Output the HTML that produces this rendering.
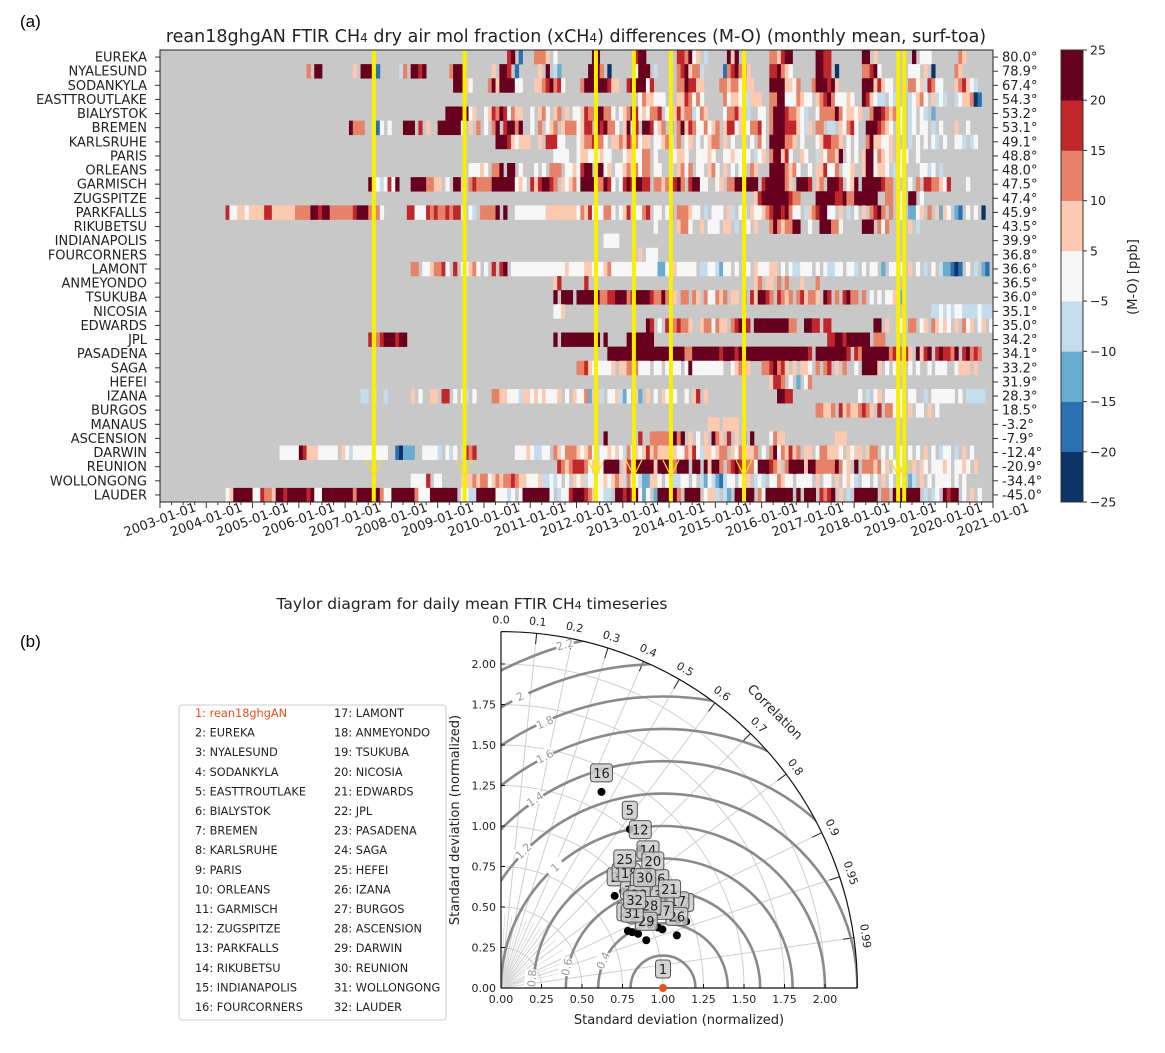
<!DOCTYPE html>
<html><head><meta charset="utf-8"><style>
html,body{margin:0;padding:0;background:#fff;overflow:hidden;width:1165px;height:1053px;}
svg{display:block;font-family:"DejaVu Sans","Liberation Sans",sans-serif;}
</style></head><body>
<svg id="fig" width="1165" height="1053" viewBox="0 0 1165 1053" xmlns="http://www.w3.org/2000/svg">
<text x="20" y="27" font-size="17" font-family="Liberation Sans, sans-serif">(a)</text>
<text x="20" y="647" font-size="17" font-family="Liberation Sans, sans-serif">(b)</text>
<text x="576" y="42" font-size="17.5" text-anchor="middle" fill="#222">rean18ghgAN FTIR CH<tspan font-size="12">4</tspan>  dry air mol fraction (xCH<tspan font-size="12">4</tspan>) differences (M-O) (monthly mean, surf-toa)</text>
<g id="heat"></g>
<g id="cbar"></g>
<text x="472" y="609" font-size="15.5" text-anchor="middle" fill="#222">Taylor diagram for daily mean FTIR CH<tspan font-size="11">4</tspan> timeseries</text>
<g id="legend"></g>
<g id="taylor"></g>
</svg>
<script>
const stations=["EUREKA","NYALESUND","SODANKYLA","EASTTROUTLAKE","BIALYSTOK","BREMEN","KARLSRUHE","PARIS","ORLEANS","GARMISCH","ZUGSPITZE","PARKFALLS","RIKUBETSU","INDIANAPOLIS","FOURCORNERS","LAMONT","ANMEYONDO","TSUKUBA","NICOSIA","EDWARDS","JPL","PASADENA","SAGA","HEFEI","IZANA","BURGOS","MANAUS","ASCENSION","DARWIN","REUNION","WOLLONGONG","LAUDER"];
const latitudes=["80.0","78.9","67.4","54.3","53.2","53.1","49.1","48.8","48.0","47.5","47.4","45.9","43.5","39.9","36.8","36.6","36.5","36.0","35.1","35.0","34.2","34.1","33.2","31.9","28.3","18.5","-3.2","-7.9","-12.4","-20.9","-34.4","-45.0"];
const startYear=[2010,2006,2009,2013,2009,2007,2010,2011,2009,2007,2015,2004,2013,2012,2013,2008,2011,2011,2011,2013,2007,2012,2012,2016,2007,2017,2014,2012,2005,2011,2008,2004];
// monthly codes: one 12-char token per year; '.' = no data, 0..8 = bins -25..25 (4 = -5..5)
const monthlyCodes=[
"......78.1.. .6665.4..... ....88...... ...788...... ..776845.3.. ...858...... ..665788.... ..8877...... ..88.5...... ...8.444.... ...65.......",
"..6.88...... ..5.888.1... ..36.8878... ...6888..... ..5.887.1... ..5.8.32.... ...8886.0... ...4888.3... ..6785663... ..1678685... ..778654.... ..8877.0.... ..66784..... ..444.5.0... ..65........",
"....88854... .685888844.. .55678674... .6888888755. .7888847.... ..6687755... .665664655.. ..88885546.. .6888785.... ..88857544.. ..664537644. ..567543....",
"....4655444. ..5576464... ..6455443555 ..6688444654 4.5678644454 ..875433.43. ..34564.5343 ..3455601...",
"..88888845.. 4576874655.. 4.564.56.5.4 4576688664.4 5687454667.4 6575663465.. ..4667563..4 4.6888766543 ..4666686455 45..6887656. 4.34.43.2...",
".8666...14.4 ...888.7.5.. 8888884.5.6. 4.68.78868.. 4.6.456.5666 4577.878664. 5847.887456. 6.6857644645 6.57745.4667 4.6888777543 5.66.33.5467 4..8887654.. 4.34.44.3.4. ..5..4......",
"...888754555 ..5.77744... 45667664.556 5766455.4456 4.6.45.4.456 6.5.4..3.4.6 4.8888665.4. ..4577665.4. 4..6855445.. ..3.4.4.43.4 ..443.34....",
"......4444.. 455444544... 4554466.4... 44554..44454 ..4454444.34 5.688574..54 ..3546658.4. 4.58846545.. 44..4.......",
"........4445 4.668.88.4.. .4.4.666.445 4788.8845.44 5656466.44.. 4.5646.44.56 4.5.4.45.65. ..88886564.. 4.557446.445 ..5884554.34 4....4434.3.",
"......844347 48...8888665 5.4.885.6766 66888888454. 7578876.5456 4888866874.4 7878877.6656 8786.78844.. 45.66884888. 78888865.888 7.56.8887.45 8.88888766.. ..4.6.776654 7....4......",
"..........57 8888888766.. ..8888877866 888888..66.. 4.88.4......",
".....7445545 555775555556 666887886666 6678886664.. ....77444767 6676774.43.6 6668.8..4444 444455555555 4657444664.4 5754467.44.4 6.666544.3.4 44.53.44.544 5678878644.3 5678844.5.3. 4.5.6786.6.4 4.2245.6.525 4.21.4.4.0..",
"........4... ..5664..5.44 4.55.3..4.5. ..68656688.. 4..888664... ..888.646... ..5.3.......",
".......4444.",
"....5.444...",
".....66.4456 674.7.44564. 4.7.78.44444 444444444544 445544456444 444444444224 4544444.3344 3244.4.44.54 4455.4.43344 4.4.43344.44 3.4.44.2.44. 4.5.4.3.4.32 2101.4.3.21.",
"......57.... ..7......... . . ..........56 .55.6.6...5. ..6.........",
"......8.888. 888888667788 867888876686 75.66.65.644 656.55.6.758 876.7656.675 665.87.6.786 6.6.4.4.445. 2...........",
"......445... . . . . . . . ........3343 434433334333",
"......87.4.7 767665..5664 655.67887.88 888888866..8 877.77...... .....88.5..4 4.66.45.6545 4.5.645.45.4",
"......756788 8788........ . . ......8.8888 888888.8.... .8888888.... . . . .....7788788 8888.666....",
"........8888 888888888888 888866888888 878887888888 888888888888 7.888888887. 768888888677 675.8578.787 768.78676...",
"6675444445.5 5666444.44.4 444.48444444 44..45665... 6678675.5.55 4.6.67.5.6.. 4.88885.4.4. 5.4.4..4.444 ..4555.5....",
"..5776.4.2.4 6...........",
"....33.3..3. .....5.4..55 .77.4.43.4.. ..6655444355 45454445.4.5 4462553.4453 24.52.5.4.54 .4..4.57.5.. . ....8877.... . .4.3.45.4444 4.44..3.4444 44.4.33333..",
"..66556.7565 56765.7.6645 4.5.44.5.4..",
"..........55 5.5555......",
".......8.... ....7..66666 5868.5.4.5.8 65.7.5.6.8.. ..4655...... .......555..",
".......44444 8755544444.5 43444444444. .10222..4444 3.434.3767.. ........4445 43344.654666 545643445454 364545756555 454465743554 566.5464556. 4.68465756.5 5.4665554.54 55.566.4.4.4 4.4.4.5.4.34 4.3.5.4.....",
".......76567 77645548888. 57.888885888 76888.88.858 86.678786648 88765.688885 88666668645. 8.6665645.44 4..5.54.4445 4.4454.5....",
".....44447.4 4.....555656 645656676554 44533434.4.5 453444454565 3644322554.4 53344.4.3243 21344.4.5.34 3.446544.444 4.5.44.5.454 3.44.4.5.4.3 4.23.5.4.444 4.4.4.......",
".....4588888 447665887888 887844888888 886888888644 888888644488 88888.443388 88844434.488 888884.34478 887654433.88 7878424.2888 886.8888.455 3.32.88888.6 48888888.8.8 88.7678.5.3. 888888.66.88 88888.3.34.8 788.4.5.4..."
];
const binColors=["#0b3466","#2a71b2","#6aacd0","#c4dcec","#f7f7f7","#fbcab0","#e58267","#c0272d","#67001f"];
const cbarTicks=["25","20","15","10","5","\u22125","\u221210","\u221215","\u221220","\u221225"];
const yearTicks=[2003,2004,2005,2006,2007,2008,2009,2010,2011,2012,2013,2014,2015,2016,2017,2018,2019,2020,2021];
const eventDates=[2007.62,2009.58,2012.42,2013.24,2014.04,2015.62,2018.95,2019.08];

const NS="http://www.w3.org/2000/svg";
function mk(tag,attrs,parent){const e=document.createElementNS(NS,tag);for(const k in attrs)e.setAttribute(k,attrs[k]);parent.appendChild(e);return e;}

// ---------- heatmap ----------
const H=document.getElementById('heat');
const X0=160,X1=993,Y0=50,Y1=502,T0=2003,T1=2021;
const xT=t=>X0+(t-T0)/(T1-T0)*(X1-X0);
const rowH=(Y1-Y0)/stations.length;
const yR=i=>Y0+i*rowH;
const mW=(X1-X0)/((T1-T0)*12);
let bg=mk('rect',{x:X0,y:Y0,width:X1-X0,height:Y1-Y0,fill:"#c8c8c8"},H);


stations.forEach((s,i)=>{
  const toks=monthlyCodes[i].split(' ').filter(t=>t.length);
  let codes="";toks.forEach(t=>{codes+=(t+"............").slice(0,12);});
  for(let m=0;m<codes.length;m++){
    const c=codes[m]; if(c==='.')continue;
    const t=startYear[i]+m/12; if(t>=T1)break;
    const r=mk('rect',{x:xT(t).toFixed(2),y:yR(i).toFixed(2),width:(mW+0.4).toFixed(2),height:(rowH+0.3).toFixed(2),fill:binColors[+c]},H);
    
    
  }
  const yc=yR(i)+rowH/2;
  const lb=mk('text',{x:X0-13,y:yc+4.5,'font-size':13,'text-anchor':'end',fill:'#222'},H);lb.textContent=s;
  
  
  mk('line',{x1:X0-5,x2:X0,y1:yc,y2:yc,stroke:'#333'},H);
  mk('line',{x1:X1,x2:X1+5,y1:yc,y2:yc,stroke:'#333'},H);
  const lt=mk('text',{x:X1+9,y:yc+4.5,'font-size':13,fill:'#222'},H);lt.textContent=latitudes[i]+"\u00b0";
  
  
});
// event lines
eventDates.forEach(d=>{
  const x=xT(d);
  const l=mk('line',{x1:x,x2:x,y1:Y0,y2:Y1,stroke:'#f8f000','stroke-width':4},H);
  
  
  mk('polyline',{points:`${x-8},${Y1-42} ${x},${Y1-26} ${x+8},${Y1-42}`,fill:'none',stroke:'#f0e020','stroke-width':1.3},H);
});
let fr=mk('rect',{x:X0,y:Y0,width:X1-X0,height:Y1-Y0,fill:'none',stroke:'#222','stroke-width':1},H);


for(let q=0;q<=(T1-T0)*4;q++){const x=xT(T0+q/4);mk('line',{x1:x,x2:x,y1:Y1,y2:Y1+(q%4?3:6),stroke:'#333'},H);}
yearTicks.forEach(y=>{
  const x=xT(y);
  const t=mk('text',{x:x,y:Y1+22,'font-size':13,'text-anchor':'middle',transform:`rotate(-20 ${x} ${Y1+18})`,fill:'#222'},H);
  t.textContent=y+"-01-01";
  
  
});
// ---------- colorbar ----------
const C=document.getElementById('cbar');
const CX=1061,CW=22,nb=binColors.length,bh=(Y1-Y0)/nb;
binColors.forEach((c,k)=>{
  const r=mk('rect',{x:CX,y:Y1-(k+1)*bh,width:CW,height:bh+0.3,fill:c},C);
  
  
});
mk('rect',{x:CX,y:Y0,width:CW,height:Y1-Y0,fill:'none',stroke:'#333'},C);
cbarTicks.forEach((lab,k)=>{
  const y=k===0?Y0:(k===cbarTicks.length-1?Y1:Y0+k*bh);
  mk('line',{x1:CX+CW,x2:CX+CW+4,y1:y,y2:y,stroke:'#333'},C);
  const t=mk('text',{x:CX+CW+7,y:y+4.5,'font-size':12.5,fill:'#222'},C);t.textContent=lab;
  
  
});
const cl=mk('text',{x:1137,y:277,'font-size':13,'text-anchor':'middle',transform:'rotate(-90 1137 277)',fill:'#222'},C);cl.textContent="(M-O) [ppb]";



// ---------- legend ----------
const L=document.getElementById('legend');
let lbx=mk('rect',{x:179,y:705,width:267,height:315,rx:3,fill:'#fff',stroke:'#ccc'},L);


const legendNames=["rean18ghgAN"].concat(stations.filter(s=>s!=="MANAUS"));
legendNames.forEach((n,k)=>{
  const col=k<16?0:1,row=k%16;
  const t=mk('text',{x:col?334:195,y:717+row*19.6,'font-size':11.3,fill:k===0?'#e8541a':'#222'},L);
  t.textContent=(k+1)+": "+n;
  
  
});

// ---------- taylor ----------
const stdDev=[1.00,0.903,0.922,1.038,1.262,1.136,1.215,1.032,0.98,0.962,1.00,1.216,1.05,1.168,0.95,1.36,1.170,0.99,1.02,1.150,1.152,0.97,0.859,0.91,1.023,1.133,1.06,1.00,0.944,1.051,0.88,0.929];
const corr=[1.00,0.777,0.850,0.933,0.630,0.871,0.941,0.909,0.86,0.784,0.89,0.707,0.90,0.777,0.89,0.456,0.933,0.80,0.85,0.815,0.903,0.88,0.912,0.93,0.747,0.958,0.94,0.92,0.950,0.844,0.92,0.888];
const corrTicks=[0,0.1,0.2,0.3,0.4,0.5,0.6,0.7,0.8,0.9,0.95,0.99];
const stdTicks=[0,0.25,0.5,0.75,1.0,1.25,1.5,1.75,2.0];
const rmsLevels=[0.2,0.4,0.6,0.8,1.0,1.2,1.4,1.6,1.8,2.0,2.2];
const T=document.getElementById('taylor');
const OX=501,OY=988,S=162,RMAX=2.2;
const px=(x,y)=>[OX+x*S,OY-y*S];
const defs=mk('defs',{},T);
const cp=mk('clipPath',{id:'quarter'},defs);
mk('path',{d:`M${OX},${OY} L${OX+RMAX*S},${OY} A${RMAX*S},${RMAX*S} 0 0 0 ${OX},${OY-RMAX*S} Z`},cp);
// std arcs
stdTicks.slice(1).forEach(r=>{
  const a=mk('path',{d:`M${OX+r*S},${OY} A${r*S},${r*S} 0 0 0 ${OX},${OY-r*S}`,fill:'none',stroke:'#cfcfcf','stroke-width':1},T);
  
  
});
// correlation radials
corrTicks.forEach(c=>{
  const th=Math.acos(c);const [x,y]=px(RMAX*Math.cos(th),RMAX*Math.sin(th));
  const l=mk('line',{x1:OX,y1:OY,x2:x,y2:y,stroke:'#cfcfcf','stroke-width':1},T);
  
  
  const [x2,y2]=px(RMAX*0.97*Math.cos(th),RMAX*0.97*Math.sin(th));
  mk('line',{x1:x2,y1:y2,x2:x,y2:y,stroke:'#222'},T);
  const [lx,ly]=px((RMAX+0.05)*Math.cos(th),(RMAX+0.05)*Math.sin(th));
  const rot=90-th*180/Math.PI;
  const t=mk('text',{x:lx,y:ly,'font-size':11,'text-anchor':'middle',transform:`rotate(${rot} ${lx} ${ly})`,fill:'#222'},T);
  t.textContent=(c===0?"0.0":String(c));
  
  
});
[0.05,0.15,0.25,0.35,0.45,0.55,0.65,0.75,0.85,0.925,0.97].forEach(c=>{
  const th=Math.acos(c);const [x,y]=px(0.45*Math.cos(th),0.45*Math.sin(th));
  mk('line',{x1:OX,y1:OY,x2:x,y2:y,stroke:'#dcdcdc','stroke-width':0.8},T);
});
// RMS contours (upper half arcs, clipped to quarter disc)
const rg=mk('g',{'clip-path':'url(#quarter)'},T);
rmsLevels.forEach(r=>{
  const cx=OX+S,R=r*S;
  const c=mk('path',{d:`M${cx+R},${OY} A${R},${R} 0 0 0 ${cx-R},${OY}`,fill:'none',stroke:'#8a8a8a','stroke-width':2.6},rg);
  
  
});
const rmsLabelPos=[[0.63,0.17],[0.405,0.13],[0.19,0.06],[0.333,0.745],[0.138,0.846],[0.21,1.166],[0.27,1.43],[0.27,1.64],[0.117,1.80],[0.394,2.12]];
["0.4","0.6","0.8","1","1.2","1.4","1.6","1.8","2","2.2"].forEach((s,k)=>{
  const [x,y]=px(rmsLabelPos[k][0],rmsLabelPos[k][1]);
  const ang=Math.atan2(rmsLabelPos[k][1],rmsLabelPos[k][0]-1)*180/Math.PI-90;
  mk('rect',{x:x-9,y:y-7,width:18,height:12,fill:'#fff',transform:`rotate(${-ang} ${x} ${y})`},T);
  const t=mk('text',{x:x,y:y+4,'font-size':11,'text-anchor':'middle',fill:'#999',transform:`rotate(${-ang} ${x} ${y})`},T);t.textContent=s;
  
  
});
// outer arc and axes
mk('path',{d:`M${OX+RMAX*S},${OY} A${RMAX*S},${RMAX*S} 0 0 0 ${OX},${OY-RMAX*S}`,fill:'none',stroke:'#111','stroke-width':1.2},T);
mk('line',{x1:OX,y1:OY,x2:OX+RMAX*S,y2:OY,stroke:'#111','stroke-width':1.2},T);
mk('line',{x1:OX,y1:OY,x2:OX,y2:OY-RMAX*S,stroke:'#111','stroke-width':1.2},T);
stdTicks.forEach(v=>{
  const x=OX+v*S,y=OY-v*S;
  mk('line',{x1:x,x2:x,y1:OY,y2:OY-4,stroke:'#111'},T);
  mk('line',{x1:OX,x2:OX+4,y1:y,y2:y,stroke:'#111'},T);
  const tx=mk('text',{x:x,y:OY+15,'font-size':11,'text-anchor':'middle',fill:'#222'},T);tx.textContent=v.toFixed(2);
  
  
  const ty=mk('text',{x:OX-5,y:y+4,'font-size':11,'text-anchor':'end',fill:'#222'},T);ty.textContent=v.toFixed(2);
  
  
});
let xa=mk('text',{x:679,y:1024,'font-size':13,'text-anchor':'middle',fill:'#222'},T);xa.textContent="Standard deviation (normalized)";


let ya=mk('text',{x:459,y:820,'font-size':13,'text-anchor':'middle',transform:'rotate(-90 459 820)',fill:'#222'},T);ya.textContent="Standard deviation (normalized)";


let cr=mk('text',{x:772,y:715,'font-size':13,'text-anchor':'middle',transform:'rotate(45 772 715)',fill:'#222'},T);cr.textContent="Correlation";


// points
const pts=stdDev.map((s,k)=>{const th=Math.acos(corr[k]);return px(s*Math.cos(th),s*Math.sin(th));});
pts.forEach((p,k)=>{
  const d=mk('circle',{cx:p[0],cy:p[1],r:4,fill:k===0?'#e8541a':'#000'},T);
  
  
});
pts.forEach((p,k)=>{
  const lab=String(k+1),w=lab.length>1?22:15;
  const g=mk('g',{},T);
  
  
  mk('rect',{x:p[0]-w/2,y:p[1]-28,width:w,height:18,rx:3,fill:'#cdcdcd','fill-opacity':0.85,stroke:'#555','stroke-width':1},g);
  const t=mk('text',{x:p[0],y:p[1]-14,'font-size':13,'text-anchor':'middle',fill:'#222'},g);t.textContent=lab;
});
</script>
</body></html>
